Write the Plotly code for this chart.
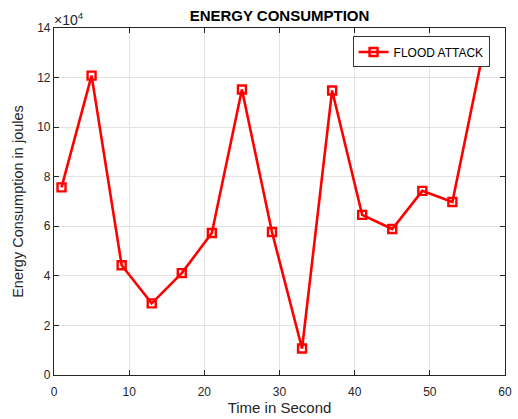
import plotly.graph_objects as go

time_s = [1, 5, 9, 13, 17, 21, 25, 29, 33, 37, 41, 45, 49, 53, 57]
energy_j = [75700, 120800, 44300, 28900, 41100, 57300, 115200, 57700, 10700, 114800, 64600, 58900, 74300, 69800, 129000]
y_ticks = [0, 20000, 40000, 60000, 80000, 100000, 120000, 140000]
y_tick_text = ["0", "2", "4", "6", "8", "10", "12", "14"]
x_ticks = [0, 10, 20, 30, 40, 50, 60]

FONT = "Arial, Liberation Sans, Helvetica, sans-serif"
AX = "#262626"

fig = go.Figure()
fig.add_trace(go.Scatter(
    x=time_s, y=energy_j, mode="lines+markers", name="FLOOD ATTACK",
    line=dict(color="#ff0000", width=2.6),
    marker=dict(symbol="square-open", size=8, color="#ff0000", line=dict(color="#ff0000", width=2.4)),
))

fig.update_layout(
    width=518, height=419,
    margin=dict(l=54, r=13, t=28, b=44),
    paper_bgcolor="white", plot_bgcolor="white",
    font=dict(family=FONT, size=12, color=AX),
    title=dict(text="<b>ENERGY CONSUMPTION</b>", x=(54 + 505) / 2 / 518, xanchor="center",
               y=1 - 16 / 419, yanchor="middle", font=dict(size=15, color="#000000")),
    showlegend=True,
    legend=dict(x=0.662, y=0.931, xanchor="left", yanchor="middle",
                bgcolor="white", bordercolor="#333333", borderwidth=1,
                font=dict(size=12, color="#000000"),
                itemwidth=30, tracegroupgap=0),
    xaxis=dict(range=[0, 60], tickvals=x_ticks, showgrid=True, gridcolor="#e3e3e3", gridwidth=1,
               showline=True, linecolor=AX, linewidth=1.2, mirror="ticks",
               ticks="inside", ticklen=5, tickcolor=AX, zeroline=False, automargin=False,
               ticklabelstandoff=5,
               title=dict(text="Time in Second", font=dict(size=15, color=AX), standoff=4),
               tickfont=dict(size=12, color=AX)),
    yaxis=dict(range=[0, 140000], tickvals=y_ticks, ticktext=y_tick_text, showgrid=True,
               gridcolor="#e3e3e3", gridwidth=1,
               showline=True, linecolor=AX, linewidth=1.2, mirror="ticks",
               ticks="inside", ticklen=5, tickcolor=AX, zeroline=False, automargin=False,
               title=dict(text="Energy Consumption in joules", font=dict(size=14.5, color=AX), standoff=10),
               tickfont=dict(size=12, color=AX)),
)

fig.add_annotation(text="×10<sup>4</sup>", xref="paper", yref="paper", x=0.0, y=1.0,
                   xanchor="left", yanchor="bottom", showarrow=False,
                   font=dict(size=14, color=AX, family=FONT), xshift=-2, yshift=-2)

fig.write_html("out.html")
